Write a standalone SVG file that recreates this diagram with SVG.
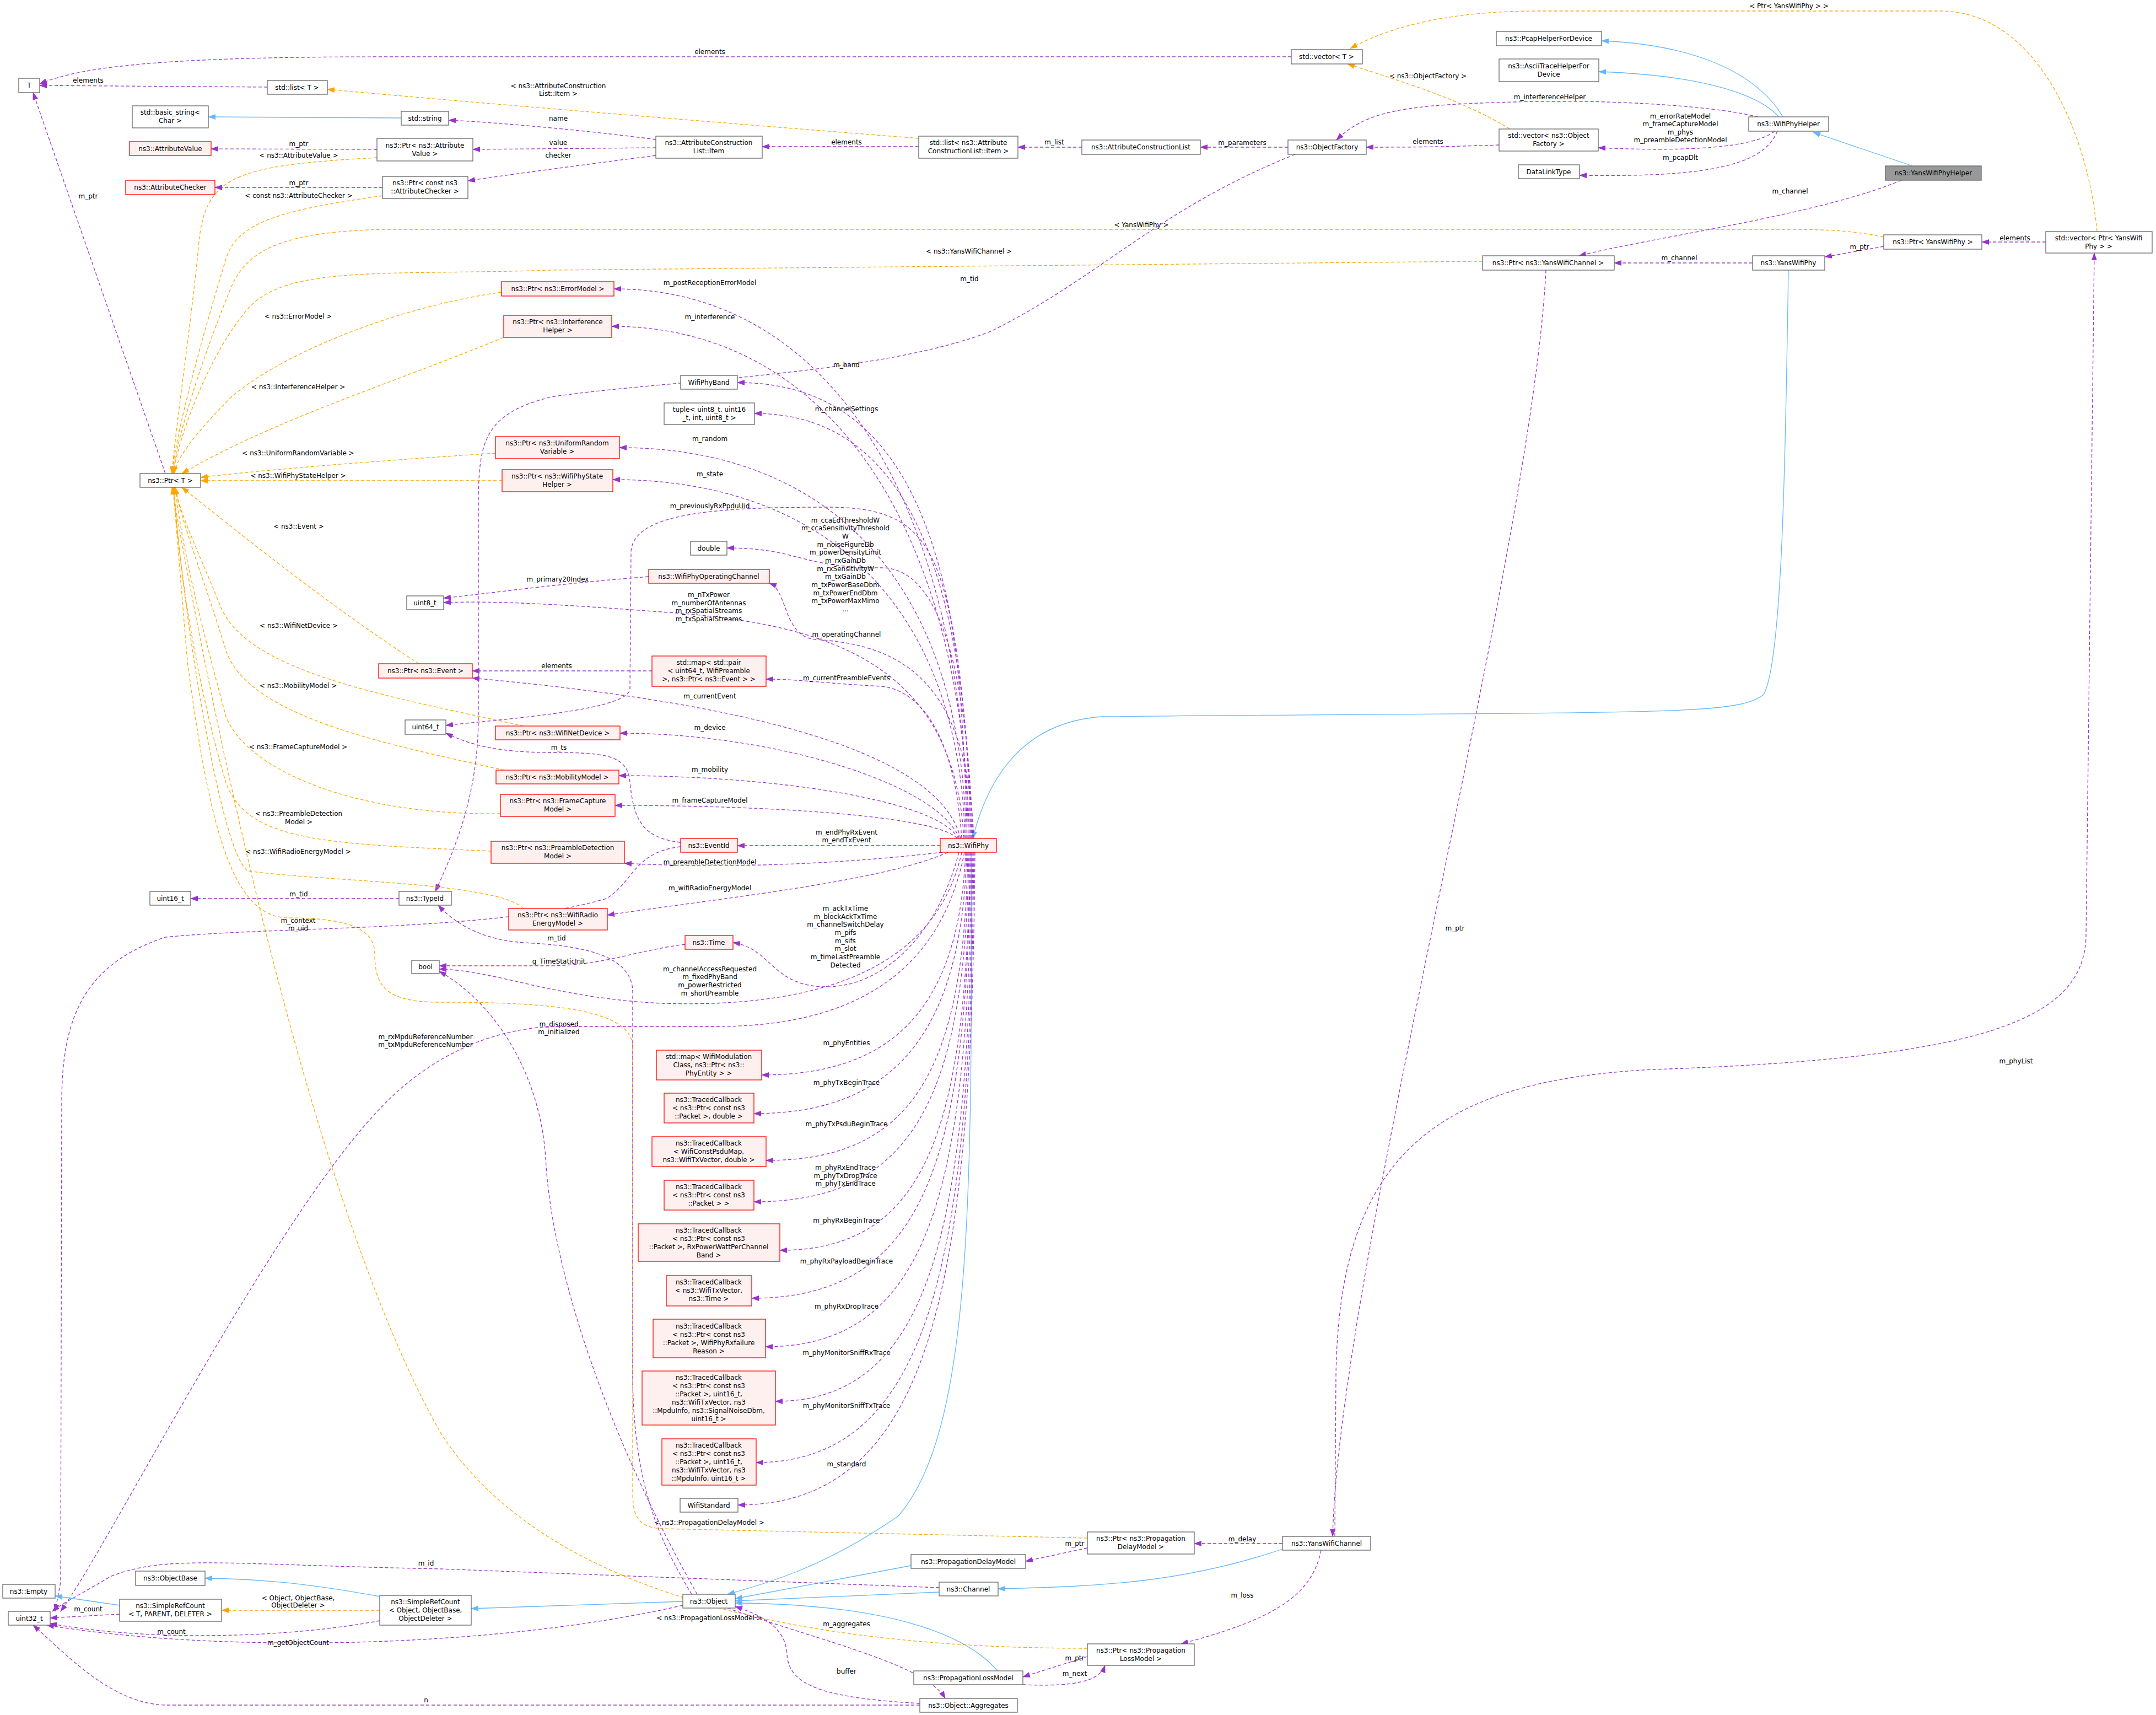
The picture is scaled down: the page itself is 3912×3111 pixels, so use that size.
<svg xmlns="http://www.w3.org/2000/svg" width="3912" height="3111" viewBox="0 0 3912 3111">
<style>
text{font-family:"DejaVu Sans","Liberation Sans",sans-serif;font-size:12px;fill:#000;text-anchor:middle}
.n rect{fill:#fff;stroke:#666;stroke-width:1.3}
.r rect{fill:#fff0f0;stroke:#f00;stroke-width:1.3}
.g rect{fill:#999;stroke:#666;stroke-width:1.3}
.p{fill:none;stroke:#9a32cd;stroke-width:1.3;stroke-dasharray:6,4;marker-end:url(#ap)}
.o{fill:none;stroke:#ffa500;stroke-width:1.3;stroke-dasharray:6,4;marker-end:url(#ao)}
.b{fill:none;stroke:#63b8ff;stroke-width:1.3;marker-end:url(#ab)}
</style>
<defs>
<marker id="ap" markerWidth="14" markerHeight="10" refX="13" refY="5" orient="auto" markerUnits="userSpaceOnUse"><path d="M0,0 L14,5 L0,10 z" fill="#9a32cd"/></marker>
<marker id="ao" markerWidth="14" markerHeight="10" refX="13" refY="5" orient="auto" markerUnits="userSpaceOnUse"><path d="M0,0 L14,5 L0,10 z" fill="#ffa500"/></marker>
<marker id="ab" markerWidth="14" markerHeight="10" refX="13" refY="5" orient="auto" markerUnits="userSpaceOnUse"><path d="M0,0 L14,5 L0,10 z" fill="#63b8ff"/></marker>
</defs>
<rect width="3912" height="3111" fill="#fff"/>
<g id="connectors">
<path class="p" d="M2343,103 L700,103 C300,103 150,120 72,152"/><text x="1288" y="98">elements</text>
<path class="p" d="M485,158 L72,155"/><text x="160" y="150">elements</text>
<path class="b" d="M728,214 L378,212"/>
<path class="p" d="M684,271 L383,270"/><text x="542" y="265">m_ptr</text>
<path class="o" d="M684,286 C420,300 370,320 360,450 C345,600 318,780 312,859"/><text x="542" y="286">&lt; ns3::AttributeValue &gt;</text>
<path class="p" d="M694,340 L390,340"/><text x="542" y="336">m_ptr</text>
<path class="o" d="M694,355 C520,380 430,400 410,470 C370,600 320,780 312,859"/><text x="542" y="359">&lt; const ns3::AttributeChecker &gt;</text>
<path class="p" d="M1190,253 C1050,235 900,222 814,218"/><text x="1013" y="219">name</text>
<path class="p" d="M1190,268 L858,271"/><text x="1013" y="263">value</text>
<path class="p" d="M1190,282 C1050,300 900,320 849,328"/><text x="1013" y="286">checker</text>
<path class="p" d="M1667,266 L1383,266"/><text x="1536" y="262">elements</text>
<path class="o" d="M1667,251 C1400,230 900,190 594,162"/><text x="1013" y="160">&lt; ns3::AttributeConstruction</text><text x="1013" y="174">List::Item &gt;</text>
<path class="p" d="M1963,267 L1847,267"/><text x="1913" y="262">m_list</text>
<path class="p" d="M2337,267 L2178,267"/><text x="2254" y="263">m_parameters</text>
<path class="p" d="M2720,263 C2600,267 2550,267 2479,267"/><text x="2591" y="261">elements</text>
<path class="o" d="M2740,234 C2650,180 2550,150 2445,116"/><text x="2591" y="142">&lt; ns3::ObjectFactory &gt;</text>
<path class="p" d="M3190,212 C3100,190 2900,180 2750,185 C2550,190 2480,200 2425,254"/><text x="2812" y="180">m_interferenceHelper</text>
<path class="p" d="M3220,238 C3180,270 3050,275 2900,268"/><text x="3049" y="215">m_errorRateModel</text><text x="3049" y="229">m_frameCaptureModel</text><text x="3049" y="244">m_phys</text><text x="3049" y="258">m_preambleDetectionModel</text>
<path class="p" d="M3225,238 C3200,300 3100,322 2866,318"/><text x="3049" y="290">m_pcapDlt</text>
<path class="b" d="M3235,212 C3180,120 3050,80 2906,74"/>
<path class="b" d="M3228,212 C3180,160 3050,135 2901,130"/>
<path class="b" d="M3470,301 L3290,240"/>
<path class="p" d="M3450,327 C3300,390 3000,430 2865,464"/><text x="3248" y="351">m_channel</text>
<path class="p" d="M3180,477 L2929,477"/><text x="3047" y="472">m_channel</text>
<path class="p" d="M3418,447 L3311,466"/><text x="3374" y="452">m_ptr</text>
<path class="p" d="M3712,439 L3596,439"/><text x="3656" y="436">elements</text>
<path class="o" d="M3805,420 C3790,250 3700,20 3520,20 L2790,20 C2600,20 2500,60 2450,88"/><text x="3246" y="15">&lt; Ptr&lt; YansWifiPhy &gt; &gt;</text>
<path class="o" d="M3418,430 C3350,416 3300,416 3200,416 L700,416 C520,420 450,450 420,520 C370,640 322,790 313,859"/><text x="2071" y="412">&lt; YansWifiPhy &gt;</text>
<path class="o" d="M2690,474 L1000,490 C700,500 520,480 450,560 C380,640 325,790 314,859"/><text x="1758" y="460">&lt; ns3::YansWifiChannel &gt;</text>
<path class="p" d="M2805,490 C2780,1000 2430,2300 2418,2787"/><text x="2640" y="1688">m_ptr</text>
<path class="p" d="M2422,2787 L2424,2500 C2428,2100 2600,1960 3000,1940 C3600,1920 3780,1850 3785,1700 L3800,459"/><text x="3658" y="1929">m_phyList</text>
<path class="p" d="M2327,2800 L2167,2800"/><text x="2254" y="2796">m_delay</text>
<path class="p" d="M2397,2812 C2380,2900 2300,2940 2143,2982"/><text x="2254" y="2898">m_loss</text>
<path class="b" d="M2327,2810 C2150,2870 2000,2878 1811,2882"/>
<path class="p" d="M2350,280 C2100,380 2000,500 1800,600 C1600,680 1200,690 1000,720 C880,750 870,800 868,900 L868,1300 C868,1450 820,1550 790,1617"/><text x="1759" y="510">m_tid</text>
<path class="o" d="M910,530 C700,560 500,650 420,720 C360,780 320,830 316,859"/><text x="541" y="578">&lt; ns3::ErrorModel &gt;</text>
<path class="o" d="M914,612 C700,700 500,760 330,859"/><text x="541" y="706">&lt; ns3::InterferenceHelper &gt;</text>
<path class="o" d="M899,822 C700,835 500,850 364,866"/><text x="541" y="826">&lt; ns3::UniformRandomVariable &gt;</text>
<path class="o" d="M911,872 L364,872"/><text x="541" y="867">&lt; ns3::WifiPhyStateHelper &gt;</text>
<path class="o" d="M760,1204 C600,1100 450,980 330,884"/><text x="542" y="959">&lt; ns3::Event &gt;</text>
<path class="o" d="M950,1317 C700,1262 450,1220 400,1100 C360,1000 325,930 318,884"/><text x="542" y="1139">&lt; ns3::WifiNetDevice &gt;</text>
<path class="o" d="M915,1397 C700,1350 450,1300 410,1180 C370,1050 330,950 318,884"/><text x="541" y="1248">&lt; ns3::MobilityModel &gt;</text>
<path class="o" d="M908,1476 C650,1480 450,1400 410,1300 C370,1150 330,1000 318,884"/><text x="541" y="1359">&lt; ns3::FrameCaptureModel &gt;</text>
<path class="o" d="M891,1544 C600,1530 450,1530 410,1420 C360,1250 325,1050 316,884"/><text x="542" y="1480">&lt; ns3::PreambleDetection</text><text x="542" y="1495">Model &gt;</text>
<path class="o" d="M950,1648 C900,1600 600,1600 450,1580 C400,1550 330,1100 315,884"/><text x="541" y="1549">&lt; ns3::WifiRadioEnergyModel &gt;</text>
<path class="o" d="M1973,2790 L1200,2773 C1150,2770 1148,2740 1148,2700 L1148,1900 C1148,1830 1000,1818 800,1818 C700,1818 680,1790 680,1730 C680,1680 620,1665 520,1665 C420,1660 380,1500 340,1200 L314,884"/><text x="1287" y="2766">&lt; ns3::PropagationDelayModel &gt;</text>
<path class="o" d="M1973,2990 C1500,2990 1000,2910 800,2600 C600,2250 420,1500 312,884"/><text x="1287" y="2939">&lt; ns3::PropagationLossModel &gt;</text>
<path class="p" d="M300,859 L60,168"/><text x="160" y="360">m_ptr</text>
<path class="p" d="M1183,1217 L857,1217"/><text x="1010" y="1212">elements</text>
<path class="p" d="M1177,1046 C1000,1060 900,1075 805,1085"/><text x="1012" y="1055">m_primary20Index</text>
<path class="p" d="M1235,1528 C1160,1520 1150,1480 1143,1420 C1140,1370 1100,1365 1000,1365 C900,1365 850,1350 809,1330"/><text x="1014" y="1360">m_ts</text>
<path class="p" d="M1235,1536 C1150,1545 1150,1600 1100,1630 C900,1690 500,1680 300,1700 C150,1750 112,1850 112,2000 L110,2870 L100,2923"/><text x="541" y="1674">m_context</text><text x="541" y="1688">m_uid</text>
<path class="p" d="M724,1630 L346,1630"/><text x="542" y="1626">m_tid</text>
<path class="p" d="M1255,2892 C1200,2800 1150,2700 1148,2500 L1148,1800 C1148,1730 1050,1715 950,1710 C880,1705 830,1680 795,1642"/><text x="1010" y="1706">m_tid</text>
<path class="p" d="M1243,1713 C1150,1725 1100,1750 1000,1752 L797,1752"/><text x="1014" y="1748">g_TimeStaticInit</text>
<path class="p" d="M1265,2892 C1100,2600 1000,2300 990,2100 C980,1950 900,1820 797,1762"/><text x="1014" y="1862">m_disposed</text><text x="1014" y="1876">m_initialized</text>
<path class="p" d="M1750,1546 C1700,1800 1500,1862 1300,1862 L1000,1862 C850,1870 750,1950 700,2000 C500,2200 200,2800 110,2923"/><text x="772" y="1885">m_rxMpduReferenceNumber</text><text x="772" y="1899">m_txMpduReferenceNumber</text>
<path class="b" d="M3245,490 C3240,800 3235,1200 3200,1260 C3150,1300 3000,1290 2000,1300 C1850,1310 1790,1420 1765,1521"/>
<path class="b" d="M1762,1546 C1765,2200 1760,2600 1630,2750 C1500,2840 1400,2870 1320,2892"/>
<path class="p" d="M1757,1521 C1745,900 1500,524 1114,524"/><text x="1288" y="517">m_postReceptionErrorModel</text>
<path class="p" d="M1759,1521 C1745,950 1500,592 1110,592"/><text x="1288" y="579">m_interference</text>
<path class="p" d="M1761,1521 C1750,1000 1650,694 1338,694"/><text x="1536" y="666">m_band</text>
<path class="p" d="M1763,1521 C1752,1050 1650,750 1369,750"/><text x="1536" y="746">m_channelSettings</text>
<path class="p" d="M1753,1521 C1745,1050 1500,812 1124,812"/><text x="1288" y="800">m_random</text>
<path class="p" d="M1751,1521 C1740,1100 1500,870 1112,870"/><text x="1288" y="864">m_state</text>
<path class="p" d="M1755,1521 C1740,1000 1700,920 1500,920 C1300,920 1150,930 1145,1000 L1143,1250 C1140,1290 900,1305 809,1316"/><text x="1288" y="922">m_previouslyRxPpduUid</text>
<path class="p" d="M1765,1521 C1755,1200 1700,1030 1600,1030 C1450,1030 1450,994 1319,994"/><text x="1534" y="948">m_ccaEdThresholdW</text><text x="1534" y="962">m_ccaSensitivityThreshold</text><text x="1534" y="977">W</text><text x="1534" y="992">m_noiseFigureDb</text><text x="1534" y="1006">m_powerDensityLimit</text><text x="1534" y="1021">m_rxGainDb</text><text x="1534" y="1036">m_rxSensitivityW</text><text x="1534" y="1050">m_txGainDb</text><text x="1534" y="1065">m_txPowerBaseDbm</text><text x="1534" y="1080">m_txPowerEndDbm</text><text x="1534" y="1094">m_txPowerMaxMimo</text><text x="1534" y="1109">...</text>
<path class="p" d="M1767,1521 C1755,1250 1650,1170 1480,1160 C1420,1155 1430,1070 1396,1058"/><text x="1536" y="1155">m_operatingChannel</text>
<path class="p" d="M1749,1521 C1730,1200 1500,1130 1200,1110 C1000,1095 900,1090 805,1093"/><text x="1286" y="1083">m_nTxPower</text><text x="1286" y="1098">m_numberOfAntennas</text><text x="1286" y="1112">m_rxSpatialStreams</text><text x="1286" y="1127">m_txSpatialStreams</text>
<path class="p" d="M1745,1521 C1730,1300 1650,1250 1600,1245 C1500,1240 1450,1232 1390,1232"/><text x="1536" y="1234">m_currentPreambleEvents</text>
<path class="p" d="M1743,1521 C1700,1350 1300,1270 857,1230"/><text x="1288" y="1267">m_currentEvent</text>
<path class="p" d="M1741,1521 C1700,1420 1400,1330 1125,1330"/><text x="1288" y="1324">m_device</text>
<path class="p" d="M1739,1521 C1700,1450 1400,1407 1123,1407"/><text x="1288" y="1400">m_mobility</text>
<path class="p" d="M1737,1521 C1700,1480 1400,1461 1116,1461"/><text x="1288" y="1456">m_frameCaptureModel</text>
<path class="p" d="M1706,1534 L1338,1534"/><text x="1536" y="1514">m_endPhyRxEvent</text><text x="1536" y="1528">m_endTxEvent</text>
<path class="p" d="M1710,1546 C1500,1570 1300,1575 1133,1566"/><text x="1288" y="1568">m_preambleDetectionModel</text>
<path class="p" d="M1720,1546 C1600,1600 1300,1630 1102,1660"/><text x="1288" y="1615">m_wifiRadioEnergyModel</text>
<path class="p" d="M1740,1546 C1700,1700 1600,1790 1500,1790 C1400,1790 1400,1720 1330,1710"/><text x="1534" y="1652">m_ackTxTime</text><text x="1534" y="1667">m_blockAckTxTime</text><text x="1534" y="1681">m_channelSwitchDelay</text><text x="1534" y="1696">m_pifs</text><text x="1534" y="1711">m_sifs</text><text x="1534" y="1725">m_slot</text><text x="1534" y="1740">m_timeLastPreamble</text><text x="1534" y="1755">Detected</text>
<path class="p" d="M1745,1546 C1700,1750 1500,1830 1200,1820 C1000,1810 900,1760 797,1758"/><text x="1288" y="1762">m_channelAccessRequested</text><text x="1288" y="1776">m_fixedPhyBand</text><text x="1288" y="1791">m_powerRestricted</text><text x="1288" y="1806">m_shortPreamble</text>
<path class="p" d="M1752,1546 C1740,1850 1600,1950 1382,1950"/><text x="1536" y="1896">m_phyEntities</text>
<path class="p" d="M1754,1546 C1745,1900 1600,2020 1368,2020"/><text x="1536" y="1968">m_phyTxBeginTrace</text>
<path class="p" d="M1756,1546 C1750,1950 1650,2105 1390,2105"/><text x="1536" y="2043">m_phyTxPsduBeginTrace</text>
<path class="p" d="M1758,1546 C1752,2000 1650,2180 1368,2180"/><text x="1534" y="2122">m_phyRxEndTrace</text><text x="1534" y="2137">m_phyTxDropTrace</text><text x="1534" y="2151">m_phyTxEndTrace</text>
<path class="p" d="M1760,1546 C1754,2050 1680,2268 1415,2268"/><text x="1536" y="2218">m_phyRxBeginTrace</text>
<path class="p" d="M1761,1546 C1755,2100 1680,2355 1364,2355"/><text x="1536" y="2292">m_phyRxPayloadBeginTrace</text>
<path class="p" d="M1763,1546 C1757,2150 1690,2443 1389,2443"/><text x="1536" y="2374">m_phyRxDropTrace</text>
<path class="p" d="M1765,1546 C1759,2200 1700,2542 1407,2542"/><text x="1536" y="2458">m_phyMonitorSniffRxTrace</text>
<path class="p" d="M1767,1546 C1761,2250 1700,2653 1372,2653"/><text x="1536" y="2554">m_phyMonitorSniffTxTrace</text>
<path class="p" d="M1769,1546 C1763,2300 1700,2730 1339,2730"/><text x="1536" y="2660">m_standard</text>
<path class="p" d="M1973,2808 L1861,2832"/><text x="1950" y="2804">m_ptr</text>
<path class="p" d="M1973,3005 L1856,3042"/><text x="1950" y="3012">m_ptr</text>
<path class="p" d="M1856,3056 C1950,3060 1995,3050 2005,3021"/><text x="1950" y="3040">m_next</text>
<path class="b" d="M1810,3031 C1750,2960 1600,2910 1334,2908"/>
<path class="b" d="M1653,2840 L1334,2900"/>
<path class="b" d="M1704,2888 L1334,2904"/>
<path class="b" d="M1239,2905 L855,2918"/>
<path class="b" d="M689,2896 C600,2880 500,2864 372,2863"/>
<path class="o" d="M689,2921 L402,2921"/><text x="541" y="2903">&lt; Object, ObjectBase,</text><text x="541" y="2916">ObjectDeleter &gt;</text>
<path class="b" d="M217,2912 L100,2895"/>
<path class="p" d="M217,2928 L91,2935"/><text x="160" y="2923">m_count</text>
<path class="p" d="M689,2940 C500,2975 250,2975 91,2945"/><text x="311" y="2964">m_count</text>
<path class="p" d="M1239,2912 C900,2990 400,3000 85,2948"/><text x="541" y="2984">m_getObjectCount</text>
<path class="p" d="M1704,2880 L800,2846 C400,2838 300,2820 200,2860 C150,2890 110,2910 95,2923"/><text x="773" y="2840">m_id</text>
<path class="p" d="M1669,3093 L300,3093 C200,3090 120,3000 60,2948"/><text x="773" y="3088">n</text>
<path class="p" d="M1320,2917 C1500,2980 1680,3020 1715,3081"/><text x="1536" y="2950">m_aggregates</text>
<path class="p" d="M1669,3090 C1500,3080 1430,3060 1428,3000 C1425,2950 1380,2930 1334,2914"/><text x="1536" y="3036">buffer</text>
</g>
<g id="T" class="n"><rect x="34" y="142" width="38" height="26"/><text x="53" y="159">T</text></g>
<g id="listT" class="n"><rect x="485" y="146" width="109" height="25"/><text x="539" y="163">std::list&lt; T &gt;</text></g>
<g id="basicstring" class="n"><rect x="240" y="192" width="138" height="40"/><text x="309" y="208">std::basic_string&lt;</text><text x="309" y="223">Char &gt;</text></g>
<g id="string" class="n"><rect x="728" y="202" width="86" height="25"/><text x="771" y="219">std::string</text></g>
<g id="AttributeValue" class="r"><rect x="235" y="257" width="148" height="25"/><text x="309" y="274">ns3::AttributeValue</text></g>
<g id="PtrAttributeValue" class="n"><rect x="684" y="251" width="174" height="41"/><text x="771" y="268">ns3::Ptr&lt; ns3::Attribute</text><text x="771" y="283">Value &gt;</text></g>
<g id="AttributeChecker" class="r"><rect x="228" y="327" width="162" height="26"/><text x="309" y="344">ns3::AttributeChecker</text></g>
<g id="PtrAttributeChecker" class="n"><rect x="694" y="320" width="155" height="40"/><text x="771" y="336">ns3::Ptr&lt; const ns3</text><text x="771" y="351">::AttributeChecker &gt;</text></g>
<g id="Item" class="n"><rect x="1190" y="247" width="193" height="40"/><text x="1286" y="263">ns3::AttributeConstruction</text><text x="1286" y="278">List::Item</text></g>
<g id="listItem" class="n"><rect x="1667" y="247" width="180" height="40"/><text x="1757" y="263">std::list&lt; ns3::Attribute</text><text x="1757" y="278">ConstructionList::Item &gt;</text></g>
<g id="ACL" class="n"><rect x="1963" y="254" width="215" height="26"/><text x="2070" y="271">ns3::AttributeConstructionList</text></g>
<g id="ObjectFactory" class="n"><rect x="2337" y="254" width="142" height="26"/><text x="2408" y="271">ns3::ObjectFactory</text></g>
<g id="vectorT" class="n"><rect x="2343" y="90" width="129" height="26"/><text x="2407" y="107">std::vector&lt; T &gt;</text></g>
<g id="Pcap" class="n"><rect x="2715" y="57" width="191" height="26"/><text x="2810" y="74">ns3::PcapHelperForDevice</text></g>
<g id="Ascii" class="n"><rect x="2720" y="107" width="181" height="41"/><text x="2810" y="124">ns3::AsciiTraceHelperFor</text><text x="2810" y="139">Device</text></g>
<g id="vectorOF" class="n"><rect x="2720" y="234" width="180" height="40"/><text x="2810" y="250">std::vector&lt; ns3::Object</text><text x="2810" y="265">Factory &gt;</text></g>
<g id="DataLinkType" class="n"><rect x="2755" y="299" width="111" height="25"/><text x="2810" y="316">DataLinkType</text></g>
<g id="WifiPhyHelper" class="n"><rect x="3173" y="212" width="145" height="26"/><text x="3245" y="229">ns3::WifiPhyHelper</text></g>
<g id="YansWifiPhyHelper" class="g"><rect x="3421" y="301" width="174" height="26"/><text x="3508" y="318">ns3::YansWifiPhyHelper</text></g>
<g id="PtrYansWifiPhy" class="n"><rect x="3418" y="426" width="178" height="26"/><text x="3507" y="443">ns3::Ptr&lt; YansWifiPhy &gt;</text></g>
<g id="vectorPtrYWP" class="n"><rect x="3712" y="420" width="193" height="39"/><text x="3808" y="436">std::vector&lt; Ptr&lt; YansWifi</text><text x="3808" y="451">Phy &gt; &gt;</text></g>
<g id="PtrYansWifiChannel" class="n"><rect x="2690" y="464" width="239" height="26"/><text x="2809" y="481">ns3::Ptr&lt; ns3::YansWifiChannel &gt;</text></g>
<g id="YansWifiPhy" class="n"><rect x="3180" y="464" width="131" height="26"/><text x="3245" y="481">ns3::YansWifiPhy</text></g>
<g id="PtrT" class="n"><rect x="254" y="859" width="110" height="25"/><text x="309" y="876">ns3::Ptr&lt; T &gt;</text></g>
<g id="PtrErrorModel" class="r"><rect x="910" y="511" width="204" height="26"/><text x="1012" y="528">ns3::Ptr&lt; ns3::ErrorModel &gt;</text></g>
<g id="PtrInterference" class="r"><rect x="914" y="572" width="196" height="40"/><text x="1012" y="588">ns3::Ptr&lt; ns3::Interference</text><text x="1012" y="603">Helper &gt;</text></g>
<g id="WifiPhyBand" class="n"><rect x="1235" y="681" width="103" height="25"/><text x="1286" y="698">WifiPhyBand</text></g>
<g id="tuple" class="n"><rect x="1205" y="731" width="164" height="39"/><text x="1287" y="747">tuple&lt; uint8_t, uint16</text><text x="1287" y="762">_t, int, uint8_t &gt;</text></g>
<g id="PtrURV" class="r"><rect x="899" y="792" width="225" height="40"/><text x="1011" y="808">ns3::Ptr&lt; ns3::UniformRandom</text><text x="1011" y="823">Variable &gt;</text></g>
<g id="PtrWPSH" class="r"><rect x="911" y="852" width="201" height="40"/><text x="1011" y="868">ns3::Ptr&lt; ns3::WifiPhyState</text><text x="1011" y="883">Helper &gt;</text></g>
<g id="double" class="n"><rect x="1253" y="982" width="66" height="25"/><text x="1286" y="999">double</text></g>
<g id="WifiPhyOperatingChannel" class="r"><rect x="1177" y="1033" width="219" height="25"/><text x="1286" y="1050">ns3::WifiPhyOperatingChannel</text></g>
<g id="uint8" class="n"><rect x="738" y="1081" width="67" height="25"/><text x="771" y="1098">uint8_t</text></g>
<g id="mapEvents" class="r"><rect x="1183" y="1190" width="207" height="55"/><text x="1286" y="1206">std::map&lt; std::pair</text><text x="1286" y="1221">&lt; uint64_t, WifiPreamble</text><text x="1286" y="1236">&gt;, ns3::Ptr&lt; ns3::Event &gt; &gt;</text></g>
<g id="PtrEvent" class="r"><rect x="687" y="1204" width="170" height="26"/><text x="772" y="1221">ns3::Ptr&lt; ns3::Event &gt;</text></g>
<g id="uint64" class="n"><rect x="735" y="1306" width="74" height="26"/><text x="772" y="1323">uint64_t</text></g>
<g id="PtrNetDevice" class="r"><rect x="899" y="1317" width="226" height="25"/><text x="1012" y="1334">ns3::Ptr&lt; ns3::WifiNetDevice &gt;</text></g>
<g id="PtrMobility" class="r"><rect x="900" y="1397" width="223" height="25"/><text x="1011" y="1414">ns3::Ptr&lt; ns3::MobilityModel &gt;</text></g>
<g id="PtrFrameCapture" class="r"><rect x="908" y="1441" width="208" height="40"/><text x="1012" y="1457">ns3::Ptr&lt; ns3::FrameCapture</text><text x="1012" y="1472">Model &gt;</text></g>
<g id="EventId" class="r"><rect x="1235" y="1521" width="103" height="25"/><text x="1286" y="1538">ns3::EventId</text></g>
<g id="WifiPhy" class="r"><rect x="1706" y="1521" width="102" height="25"/><text x="1757" y="1538">ns3::WifiPhy</text></g>
<g id="PtrPreamble" class="r"><rect x="891" y="1526" width="242" height="40"/><text x="1012" y="1542">ns3::Ptr&lt; ns3::PreambleDetection</text><text x="1012" y="1557">Model &gt;</text></g>
<g id="uint16" class="n"><rect x="272" y="1617" width="74" height="25"/><text x="309" y="1634">uint16_t</text></g>
<g id="TypeId" class="n"><rect x="724" y="1617" width="95" height="25"/><text x="771" y="1634">ns3::TypeId</text></g>
<g id="PtrRadioEnergy" class="r"><rect x="923" y="1648" width="179" height="39"/><text x="1012" y="1664">ns3::Ptr&lt; ns3::WifiRadio</text><text x="1012" y="1679">EnergyModel &gt;</text></g>
<g id="Time" class="r"><rect x="1243" y="1697" width="87" height="25"/><text x="1286" y="1714">ns3::Time</text></g>
<g id="bool" class="n"><rect x="747" y="1742" width="50" height="24"/><text x="772" y="1758">bool</text></g>
<g id="mapPhyEntity" class="r"><rect x="1191" y="1905" width="191" height="54"/><text x="1286" y="1921">std::map&lt; WifiModulation</text><text x="1286" y="1936">Class, ns3::Ptr&lt; ns3::</text><text x="1286" y="1951">PhyEntity &gt; &gt;</text></g>
<g id="TC1" class="r"><rect x="1205" y="1983" width="163" height="54"/><text x="1286" y="1999">ns3::TracedCallback</text><text x="1286" y="2014">&lt; ns3::Ptr&lt; const ns3</text><text x="1286" y="2029">::Packet &gt;, double &gt;</text></g>
<g id="TC2" class="r"><rect x="1183" y="2062" width="207" height="54"/><text x="1286" y="2078">ns3::TracedCallback</text><text x="1286" y="2093">&lt; WifiConstPsduMap,</text><text x="1286" y="2108">ns3::WifiTxVector, double &gt;</text></g>
<g id="TC3" class="r"><rect x="1205" y="2141" width="163" height="54"/><text x="1286" y="2157">ns3::TracedCallback</text><text x="1286" y="2172">&lt; ns3::Ptr&lt; const ns3</text><text x="1286" y="2187">::Packet &gt; &gt;</text></g>
<g id="TC4" class="r"><rect x="1158" y="2220" width="257" height="68"/><text x="1286" y="2236">ns3::TracedCallback</text><text x="1286" y="2251">&lt; ns3::Ptr&lt; const ns3</text><text x="1286" y="2266">::Packet &gt;, RxPowerWattPerChannel</text><text x="1286" y="2281">Band &gt;</text></g>
<g id="TC5" class="r"><rect x="1209" y="2314" width="155" height="55"/><text x="1286" y="2330">ns3::TracedCallback</text><text x="1286" y="2345">&lt; ns3::WifiTxVector,</text><text x="1286" y="2360">ns3::Time &gt;</text></g>
<g id="TC6" class="r"><rect x="1185" y="2393" width="204" height="70"/><text x="1286" y="2410">ns3::TracedCallback</text><text x="1286" y="2425">&lt; ns3::Ptr&lt; const ns3</text><text x="1286" y="2440">::Packet &gt;, WifiPhyRxfailure</text><text x="1286" y="2455">Reason &gt;</text></g>
<g id="TC7" class="r"><rect x="1165" y="2487" width="242" height="98"/><text x="1286" y="2503">ns3::TracedCallback</text><text x="1286" y="2518">&lt; ns3::Ptr&lt; const ns3</text><text x="1286" y="2533">::Packet &gt;, uint16_t,</text><text x="1286" y="2548">ns3::WifiTxVector, ns3</text><text x="1286" y="2563">::MpduInfo, ns3::SignalNoiseDbm,</text><text x="1286" y="2578">uint16_t &gt;</text></g>
<g id="TC8" class="r"><rect x="1201" y="2610" width="171" height="84"/><text x="1286" y="2626">ns3::TracedCallback</text><text x="1286" y="2641">&lt; ns3::Ptr&lt; const ns3</text><text x="1286" y="2656">::Packet &gt;, uint16_t,</text><text x="1286" y="2671">ns3::WifiTxVector, ns3</text><text x="1286" y="2686">::MpduInfo, uint16_t &gt;</text></g>
<g id="WifiStandard" class="n"><rect x="1234" y="2718" width="105" height="25"/><text x="1286" y="2735">WifiStandard</text></g>
<g id="PropagationDelayModel" class="n"><rect x="1653" y="2820" width="208" height="25"/><text x="1757" y="2837">ns3::PropagationDelayModel</text></g>
<g id="Channel" class="n"><rect x="1704" y="2870" width="107" height="25"/><text x="1757" y="2887">ns3::Channel</text></g>
<g id="Object" class="n"><rect x="1239" y="2892" width="95" height="25"/><text x="1286" y="2909">ns3::Object</text></g>
<g id="PropagationLossModel" class="n"><rect x="1658" y="3031" width="198" height="25"/><text x="1757" y="3048">ns3::PropagationLossModel</text></g>
<g id="Aggregates" class="n"><rect x="1669" y="3081" width="177" height="25"/><text x="1757" y="3098">ns3::Object::Aggregates</text></g>
<g id="Empty" class="n"><rect x="5" y="2874" width="95" height="25"/><text x="52" y="2891">ns3::Empty</text></g>
<g id="uint32" class="n"><rect x="15" y="2923" width="76" height="25"/><text x="53" y="2940">uint32_t</text></g>
<g id="ObjectBase" class="n"><rect x="246" y="2850" width="126" height="26"/><text x="309" y="2867">ns3::ObjectBase</text></g>
<g id="SimpleRefCountT" class="n"><rect x="217" y="2901" width="185" height="40"/><text x="309" y="2917">ns3::SimpleRefCount</text><text x="309" y="2932">&lt; T, PARENT, DELETER &gt;</text></g>
<g id="SimpleRefCountObject" class="n"><rect x="689" y="2894" width="166" height="54"/><text x="772" y="2910">ns3::SimpleRefCount</text><text x="772" y="2925">&lt; Object, ObjectBase,</text><text x="772" y="2940">ObjectDeleter &gt;</text></g>
<g id="PtrPropDelay" class="n"><rect x="1973" y="2779" width="194" height="40"/><text x="2070" y="2795">ns3::Ptr&lt; ns3::Propagation</text><text x="2070" y="2810">DelayModel &gt;</text></g>
<g id="YansWifiChannel" class="n"><rect x="2327" y="2787" width="160" height="25"/><text x="2407" y="2804">ns3::YansWifiChannel</text></g>
<g id="PtrPropLoss" class="n"><rect x="1973" y="2982" width="194" height="39"/><text x="2070" y="2998">ns3::Ptr&lt; ns3::Propagation</text><text x="2070" y="3013">LossModel &gt;</text></g>
</svg>
